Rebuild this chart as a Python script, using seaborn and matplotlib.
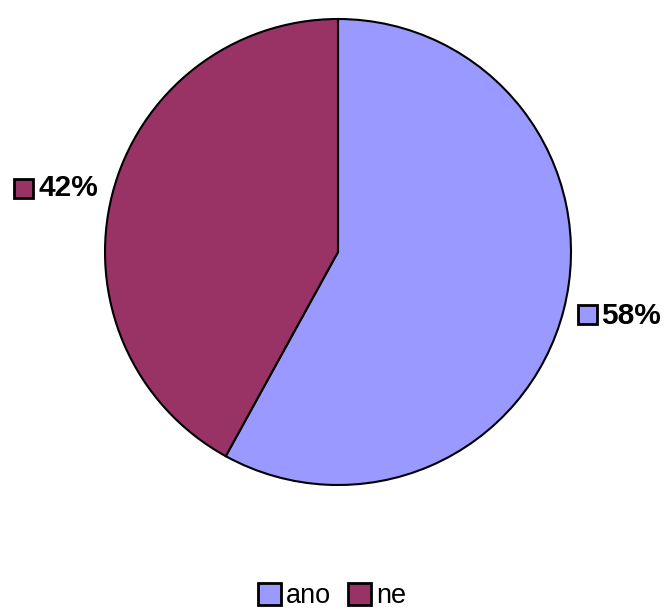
import matplotlib
matplotlib.use("Agg")
import matplotlib.pyplot as plt
from matplotlib.patches import Rectangle, Patch
import seaborn as sns

categories = ["ano", "ne"]
values = [58, 42]
labels = ["58%", "42%"]
colors = sns.color_palette(["#9999FF", "#993366"])

sns.set_theme(style="white")
plt.rcParams['font.family'] = ['Liberation Sans', 'DejaVu Sans']
plt.rcParams['text.color'] = 'black'

fig = plt.figure(figsize=(6.64, 6.08), dpi=100)
ax = fig.add_axes([105/664, (608-485)/608, 466/664, 466/608])
ax.pie(values, colors=colors, startangle=90, counterclock=False,
       wedgeprops=dict(edgecolor="black", linewidth=1.5))
ax.set_xlim(-1, 1)
ax.set_ylim(-1, 1)
ax.set_aspect('auto')
ax.axis('off')

# data labels with colour keys
label_pos = [(1.030, -0.309, 1.131, -0.275), (-1.391, 0.232, -1.287, 0.275)]
s = 0.080
for (sx, sy, tx, ty), lab, c in zip(label_pos, labels, colors):
    ax.add_patch(Rectangle((sx, sy), s, s, facecolor=c, edgecolor="black",
                           linewidth=2, clip_on=False))
    ax.text(tx, ty, lab, fontsize=21.5, fontweight='bold', va='center', ha='left',
            color='black', clip_on=False)

handles = [Patch(facecolor=c, edgecolor='black', linewidth=2) for c in colors]
fig.legend(handles, categories, loc='center', bbox_to_anchor=(0.5, 1 - 596/608),
           ncol=2, frameon=False, fontsize=19.5, handlelength=0.85, handleheight=0.85,
           handletextpad=0.2, columnspacing=0.6, labelcolor='black')

fig.savefig("out.png", dpi=100)
